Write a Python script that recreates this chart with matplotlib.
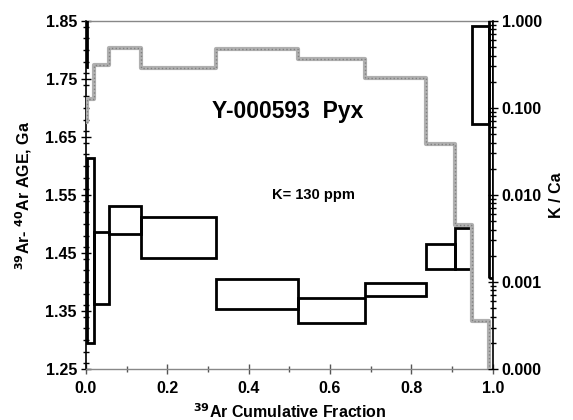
import matplotlib
matplotlib.use('Agg')
import matplotlib.pyplot as plt
from matplotlib.patches import Rectangle
from matplotlib.ticker import MultipleLocator, FixedLocator, FuncFormatter, LogLocator

plt.rcParams['font.family'] = ['Liberation Sans', 'DejaVu Sans']
plt.rcParams['font.weight'] = 'bold'

# step edges (39Ar cumulative fraction)
edges = [0.0, 0.002, 0.02, 0.057, 0.135, 0.32, 0.52, 0.685, 0.836, 0.906, 0.948, 0.991, 1.0]
# age boxes (Ga), low and high for each step
age_lo = [1.771, 1.294, 1.3615, 1.482, 1.4408, 1.353, 1.329, 1.376, 1.422, 1.422, 1.672, 1.407]
age_hi = [1.90, 1.613, 1.487, 1.531, 1.5126, 1.406, 1.373, 1.398, 1.4655, 1.4937, 1.841, 1.90]
# K/Ca for each step
kca = [0.069, 0.127, 0.312, 0.493, 0.286, 0.477, 0.366, 0.219, 0.039, 0.00452, 0.000359, 0.00005]

fig = plt.figure(figsize=(5.73, 4.2), dpi=100)
ax = fig.add_axes([0.150, 0.1214, 0.710, 0.8286])

for i in range(len(age_lo)):
    x0, x1 = edges[i], edges[i + 1]
    ax.add_patch(Rectangle((x0, age_lo[i]), x1 - x0, age_hi[i] - age_lo[i],
                           fill=False, edgecolor='black', linewidth=2, zorder=3))

ax.set_xlim(0, 1.0)
ax.set_ylim(1.25, 1.85)
ax.xaxis.set_major_locator(MultipleLocator(0.2))
ax.xaxis.set_minor_locator(MultipleLocator(0.1))
ax.yaxis.set_major_locator(FixedLocator([1.25, 1.35, 1.45, 1.55, 1.65, 1.75, 1.85]))
ax.yaxis.set_minor_locator(MultipleLocator(0.02))
ax.xaxis.set_major_formatter(FuncFormatter(lambda v, p: f"{v:.1f}"))
ax.yaxis.set_major_formatter(FuncFormatter(lambda v, p: f"{v:.2f}"))
ax.tick_params(axis='both', which='major', direction='inout', length=7, width=1, labelsize=11.5, pad=3)
ax.tick_params(axis='x', which='major', pad=5)
ax.tick_params(axis='both', which='minor', direction='inout', length=4, width=1)
ax.tick_params(axis='x', which='both', color='#555555')
ax.spines['left'].set_color('black')
ax.spines['left'].set_linewidth(1.2)
for s in ['top', 'bottom']:
    ax.spines[s].set_color('#888888')
    ax.spines[s].set_linewidth(1)
ax.spines['right'].set_visible(False)

ax.set_xlabel('$^{39}$Ar Cumulative Fraction', fontsize=11.5, fontweight='bold')
ax.set_ylabel('$^{39}$Ar- $^{40}$Ar AGE, Ga', fontsize=11.5, fontweight='bold')
ax.xaxis.set_label_coords(0.5, -0.095)
ax.yaxis.set_label_coords(-0.128, 0.5)

ax.text(0.495, 0.74, 'Y-000593  Pyx', transform=ax.transAxes, ha='center', va='center',
        fontsize=16.5, fontweight='bold')
ax.text(0.56, 0.50, 'K= 130 ppm', transform=ax.transAxes, ha='center', va='center',
        fontsize=10.5, fontweight='bold')

ax2 = ax.twinx()
ax2.set_yscale('log')
ax2.set_ylim(0.0001, 1.0)
ax2.step(edges, kca + [kca[-1]], where='post', color='#b0b0b0', linewidth=3, zorder=2)
ax2.step(edges, kca + [kca[-1]], where='post', color='#808080', linewidth=1, linestyle=':', zorder=2)
ax2.yaxis.set_major_locator(LogLocator(base=10, numticks=10))
ax2.yaxis.set_minor_locator(LogLocator(base=10, subs=range(2, 10), numticks=10))
ax2.yaxis.set_major_formatter(FuncFormatter(lambda v, p: f"{v:.3f}"))
ax2.tick_params(axis='y', which='major', direction='inout', length=7, width=1, labelsize=11.5, pad=3)
ax2.tick_params(axis='y', which='minor', direction='inout', length=4, width=1)
for s in ['left', 'top', 'bottom']:
    ax2.spines[s].set_visible(False)
ax2.spines['right'].set_color('black')
ax2.spines['right'].set_linewidth(1.2)
ax2.set_ylabel('K / Ca', fontsize=11.5, fontweight='bold')
ax2.yaxis.set_label_coords(1.1376, 0.5)

fig.savefig('out.png', dpi=100)
